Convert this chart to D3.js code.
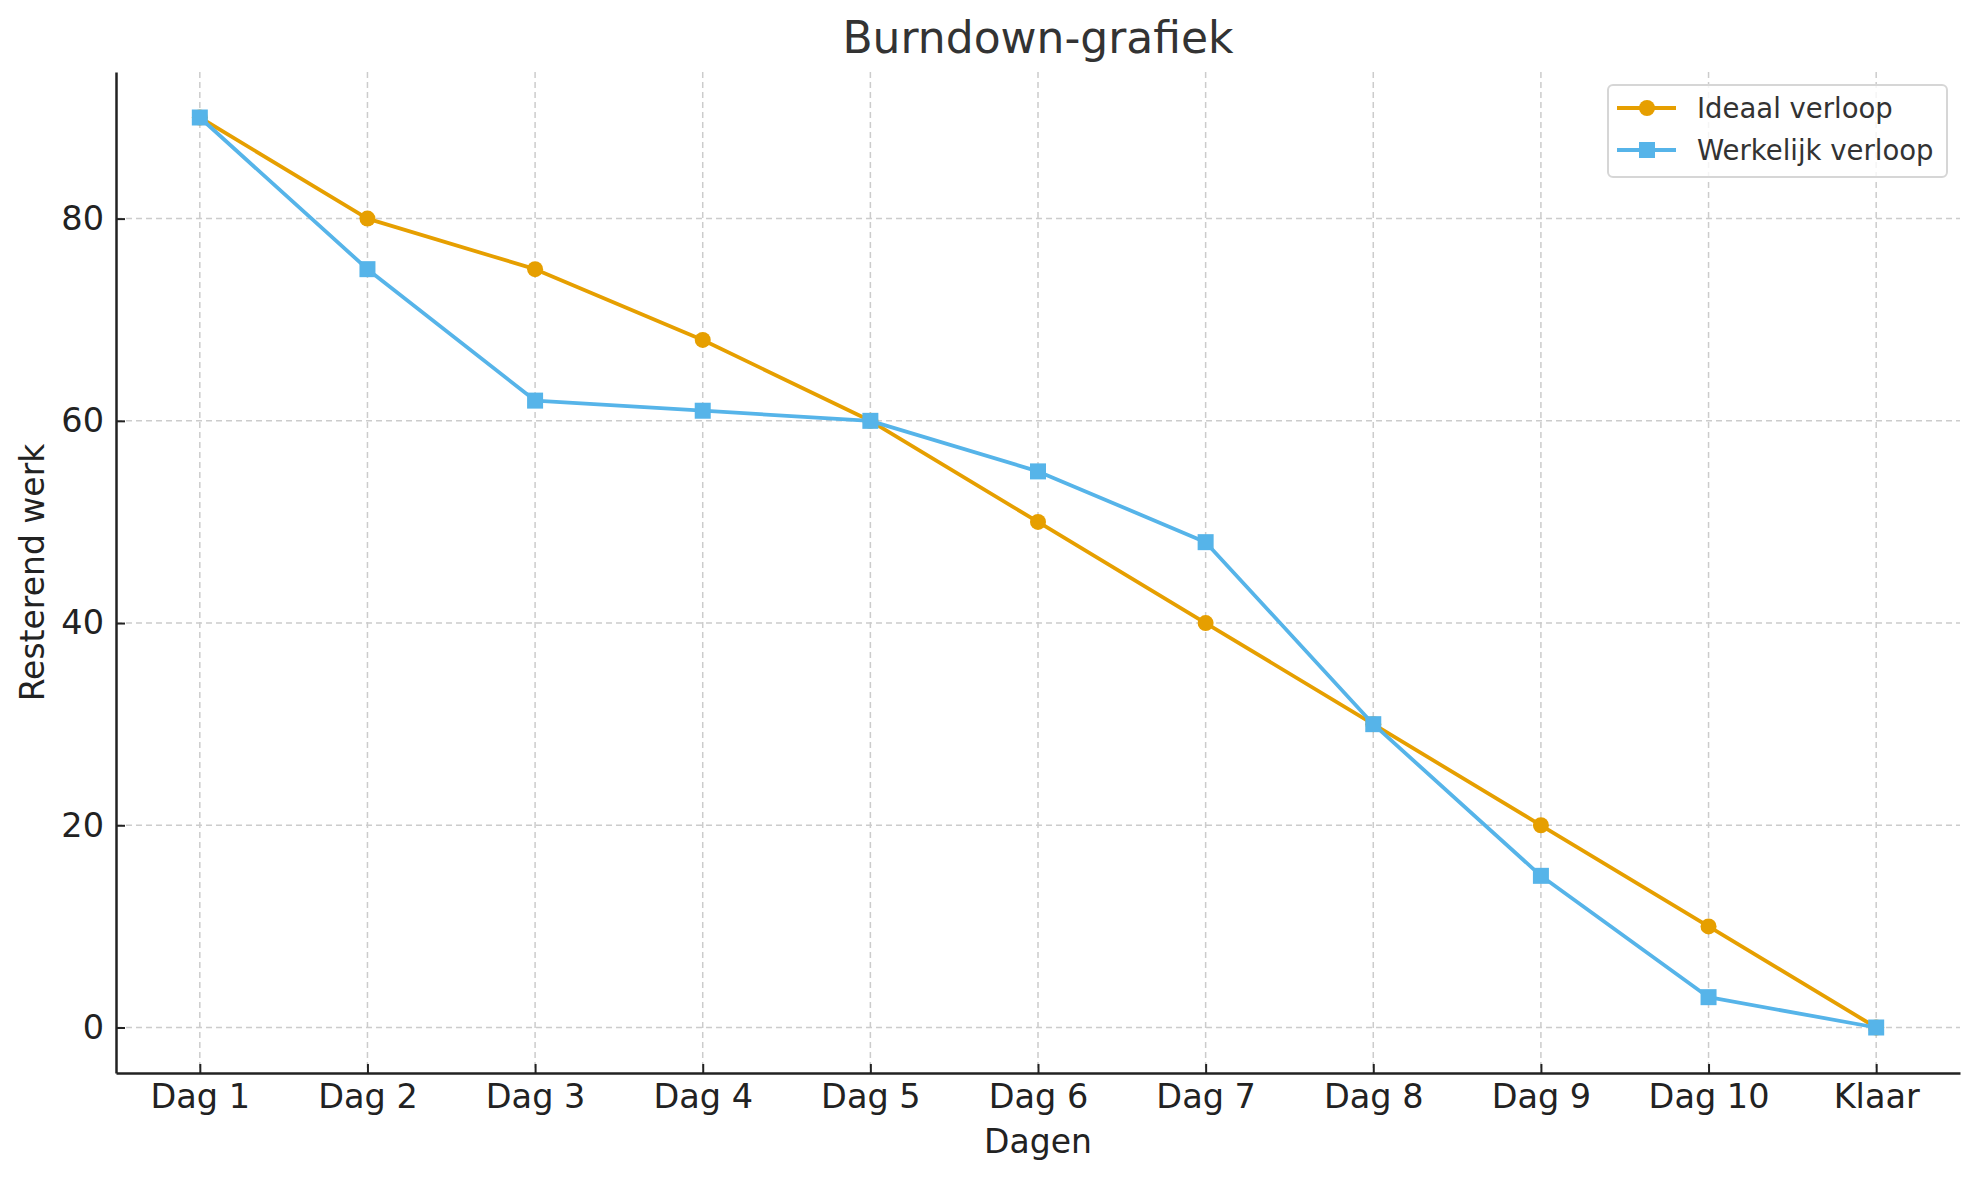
<!DOCTYPE html>
<html>
<head>
<meta charset="utf-8">
<script src="https://cdn.jsdelivr.net/npm/d3@7"></script>
<style>
  body { margin: 0; background: #fff; }
  text { font-family: "DejaVu Sans", sans-serif; }
</style>
</head>
<body>
<div id="chart"></div>
<script>
var days = ['Dag 1', 'Dag 2', 'Dag 3', 'Dag 4', 'Dag 5', 'Dag 6', 'Dag 7', 'Dag 8', 'Dag 9', 'Dag 10', 'Klaar'];
var idealValues = [90, 80, 75, 68, 60, 50, 40, 30, 20, 10, 0];
var actualValues = [90, 75, 62, 61, 60, 55, 48, 30, 15, 3, 0];
var yTicks = [0, 20, 40, 60, 80];

var width = 1979,
  height = 1180;

var margin = { top: 72, right: 19, bottom: 107, left: 116 };

var idealColor = '#E69F00',
  actualColor = '#56B4E9';

var svg = d3.select('#chart').append('svg').attr('width', width).attr('height', height);

var x = d3.scalePoint().domain(days).range([margin.left, width - margin.right]).padding(0.5);
var y = d3.scaleLinear().domain([-4.5, 94.5]).range([height - margin.bottom, margin.top]);

// grid
svg.append('g').selectAll('line').data(days).enter().append('line')
  .attr('x1', function(d) { return x(d); })
  .attr('x2', function(d) { return x(d); })
  .attr('y1', margin.top)
  .attr('y2', height - margin.bottom)
  .attr('stroke', '#cccccc')
  .attr('stroke-width', 1.5)
  .attr('stroke-dasharray', '6,4');

svg.append('g').selectAll('line').data(yTicks).enter().append('line')
  .attr('x1', margin.left)
  .attr('x2', width - margin.right)
  .attr('y1', function(d) { return y(d); })
  .attr('y2', function(d) { return y(d); })
  .attr('stroke', '#cccccc')
  .attr('stroke-width', 1.5)
  .attr('stroke-dasharray', '6,4');

// axes
var xAxis = svg.append('g')
  .attr('transform', 'translate(0,' + (height - margin.bottom) + ')')
  .call(d3.axisBottom(x).tickSizeInner(-9).tickSizeOuter(0).tickPadding(11));

var yAxis = svg.append('g')
  .attr('transform', 'translate(' + margin.left + ',0)')
  .call(d3.axisLeft(y).tickValues(yTicks).tickSizeInner(-9).tickSizeOuter(0).tickPadding(12));

[xAxis, yAxis].forEach(function(ax) {
  ax.select('.domain').attr('stroke', '#222').attr('stroke-width', 2.5);
  ax.selectAll('.tick line').attr('stroke', '#222').attr('stroke-width', 2);
  ax.selectAll('.tick text').attr('fill', '#222').style('font-size', '33.5px');
});

// lines
function drawSeries(values, color, shape) {
  var line = d3.line()
    .x(function(d, i) { return x(days[i]); })
    .y(function(d) { return y(d); });

  svg.append('path')
    .datum(values)
    .attr('d', line)
    .attr('fill', 'none')
    .attr('stroke', color)
    .attr('stroke-width', 3.8)
    .attr('stroke-linejoin', 'round');

  var g = svg.append('g');
  if (shape === 'circle') {
    g.selectAll('circle').data(values).enter().append('circle')
      .attr('cx', function(d, i) { return x(days[i]); })
      .attr('cy', function(d) { return y(d); })
      .attr('r', 8)
      .attr('fill', color);
  } else {
    g.selectAll('rect').data(values).enter().append('rect')
      .attr('x', function(d, i) { return x(days[i]) - 8; })
      .attr('y', function(d) { return y(d) - 8; })
      .attr('width', 16)
      .attr('height', 16)
      .attr('fill', color);
  }
}

drawSeries(idealValues, idealColor, 'circle');
drawSeries(actualValues, actualColor, 'square');

// titles
svg.append('text')
  .attr('x', (margin.left + width - margin.right) / 2)
  .attr('y', 53)
  .attr('text-anchor', 'middle')
  .attr('fill', '#333')
  .style('font-size', '44px')
  .text('Burndown-grafiek');

svg.append('text')
  .attr('x', (margin.left + width - margin.right) / 2)
  .attr('y', 1153)
  .attr('text-anchor', 'middle')
  .attr('fill', '#222')
  .style('font-size', '33px')
  .text('Dagen');

svg.append('text')
  .attr('transform', 'translate(44,' + (margin.top + height - margin.bottom) / 2 + ') rotate(-90)')
  .attr('text-anchor', 'middle')
  .attr('fill', '#222')
  .style('font-size', '33px')
  .text('Resterend werk');

// legend
var legend = svg.append('g').attr('transform', 'translate(1608,85)');
legend.append('rect')
  .attr('width', 339)
  .attr('height', 92)
  .attr('rx', 5)
  .attr('fill', 'rgba(255,255,255,0.8)')
  .attr('stroke', '#d6d6d6')
  .attr('stroke-width', 2);

var legendItems = [
  { label: 'Ideaal verloop', color: idealColor, shape: 'circle' },
  { label: 'Werkelijk verloop', color: actualColor, shape: 'square' }
];

legendItems.forEach(function(item, i) {
  var row = legend.append('g').attr('transform', 'translate(0,' + (23 + i * 42) + ')');
  row.append('line')
    .attr('x1', 9).attr('x2', 68)
    .attr('stroke', item.color)
    .attr('stroke-width', 3.8);
  if (item.shape === 'circle') {
    row.append('circle').attr('cx', 39).attr('r', 8).attr('fill', item.color);
  } else {
    row.append('rect').attr('x', 31).attr('y', -8).attr('width', 16).attr('height', 16).attr('fill', item.color);
  }
  row.append('text')
    .attr('x', 89)
    .attr('dy', '0.35em')
    .attr('fill', '#333')
    .style('font-size', '27.5px')
    .text(item.label);
});
</script>
</body>
</html>
